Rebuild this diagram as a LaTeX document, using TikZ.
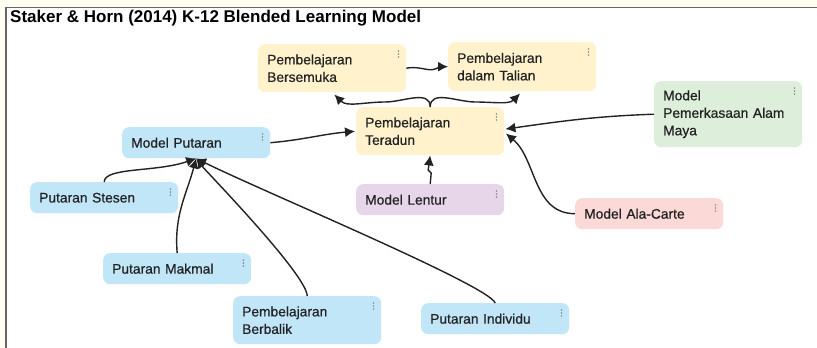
\documentclass[tikz,border=0pt]{standalone}
\usepackage{fontspec}
\setmainfont{Liberation Sans}
\newfontfamily\nodefont{Liberation Sans}[FakeBold=0.6]
\usetikzlibrary{arrows.meta,calc}
\definecolor{bgout}{HTML}{FFFEF0}
\definecolor{framec}{HTML}{666666}
\definecolor{txt}{HTML}{222222}
\definecolor{linec}{HTML}{222222}
\definecolor{dotc}{HTML}{8A8A8A}
\definecolor{creamf}{HTML}{FFF2CC}
\definecolor{bluef}{HTML}{C0E6F8}
\definecolor{lavf}{HTML}{E7D6EA}
\definecolor{pinkf}{HTML}{FAD9D7}
\definecolor{greenf}{HTML}{DDEEDA}
\newcommand\kebab[1]{\foreach \k in {0,3,6}{\fill[dotc] ($(#1.north east)+(-8,-7-\k)$) circle (0.9pt);}}
\tikzset{
  box/.style={rounded corners=7pt, anchor=north west, minimum width=148pt,
    minimum height=31pt, inner xsep=9pt, inner ysep=0pt, text width=130pt,
    align=left, font=\nodefont\fontsize{13.8}{17.5}\selectfont, text=txt},
  arr/.style={line width=1.4pt, draw=linec, -{Latex[length=10pt,width=10pt]}},
}
\begin{document}
\begin{tikzpicture}[x=1pt,y=1pt]
\useasboundingbox (0,0) rectangle (817,-348);
\fill[bgout] (0,0) rectangle (817,-348);
\fill[white] (6,-7) rectangle (817,-348);
\draw[framec, line width=1pt] (817,-7) -- (5.5,-7);
\draw[framec, line width=2pt] (5.5,-7) -- (5.5,-348);
\node[anchor=base west, inner sep=0pt, font=\bfseries\fontsize{17}{20}\selectfont] (title) at (10,-22) {Staker \& Horn (2014) K-12 Blended Learning Model};

\node[box, fill=creamf, minimum height=48pt] (ber) at (258,-44) {Pembelajaran\\Bersemuka};
\node[box, fill=creamf, minimum height=49pt] (tal) at (448,-42) {Pembelajaran\\dalam Talian};
\node[box, fill=creamf, minimum height=48pt] (ter) at (356,-107) {Pembelajaran\\Teradun};
\node[box, fill=bluef] (put) at (122,-127) {Model Putaran};
\node[box, fill=bluef] (ste) at (30,-182) {Putaran Stesen};
\node[box, fill=bluef] (mak) at (103,-253) {Putaran Makmal};
\node[box, fill=bluef, minimum height=48pt] (bal) at (233,-296) {Pembelajaran\\Berbalik};
\node[box, fill=bluef] (ind) at (421,-303) {Putaran Individu};
\node[box, fill=lavf] (len) at (356,-184) {Model Lentur};
\node[box, fill=pinkf] (ala) at (575,-198) {Model Ala-Carte};
\node[box, fill=greenf, minimum height=66pt] (pem) at (654,-81) {Model\\Pemerkasaan Alam\\Maya};
\foreach \n in {ber,tal,ter,put,ste,mak,bal,ind,len,ala,pem}{\kebab{\n}}

% top connectors
\draw[arr] (ber.east) to[out=10,in=170] ($(ber.east)!0.5!(tal.west)+(0,-2)$) to[out=-10,in=180] (tal.west);
\draw[arr, shorten >=3pt] (ter.north) to[out=90,in=0] ($(ter.north)+(-45,5)$) to[out=180,in=-45] (ber.south);
\draw[arr, shorten >=3pt] (ter.north) to[out=90,in=180] ($(ter.north)+(45,5)$) to[out=0,in=-135] (tal.south);
% into Teradun
\draw[arr, shorten >=1pt] (put.east) to[out=5,in=185] (ter.west);
\draw[arr, shorten >=1pt] (pem.west) to[out=182,in=8] ([yshift=2pt]ter.east);
\draw[arr, shorten >=2pt] (ala.west) to[out=180,in=-40] ([yshift=-1pt]ter.east);
\draw[arr] (len.north) -- ++(1,11) -- ++(-3,3) -- (ter.south);
% into Model Putaran
\draw[arr] (ste.north) .. controls +(0,15) and +(-40,-14) .. (put.south);
\draw[arr] (mak.north) to[out=95,in=-105] (put.south);
\draw[arr] (bal.north) .. controls +(0,21) and +(9,-12) .. (put.south);
\draw[arr] (ind.north) .. controls +(-7,18) and +(64,-32) .. (put.south);
\end{tikzpicture}
\end{document}
